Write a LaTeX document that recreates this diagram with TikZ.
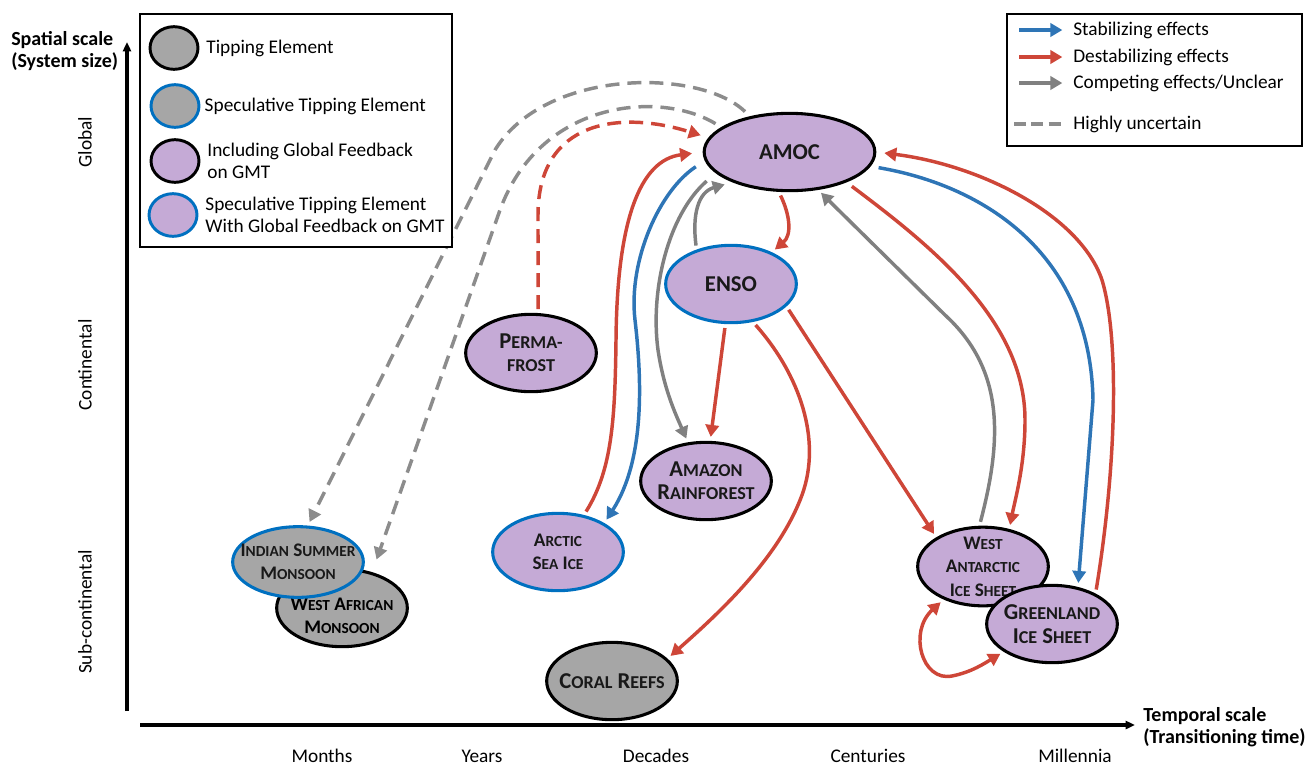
\documentclass[tikz,border=0pt]{standalone}
\usepackage{fontspec}
\setmainfont{Carlito}
\usetikzlibrary{shapes.geometric, arrows.meta, positioning}

\definecolor{tipgray}{RGB}{166,166,166}
\definecolor{gmtpurple}{RGB}{197,170,214}
\definecolor{specblue}{RGB}{0,112,192}
\definecolor{stabblue}{RGB}{46,117,182}
\definecolor{destabred}{RGB}{206,70,56}
\definecolor{unclgray}{RGB}{128,128,128}
\definecolor{dashgray}{RGB}{140,140,140}

% fake small caps: first letter full size, rest smaller
\makeatletter
\newcommand{\smcap}[2]{#1{\fontsize{\fpeval{0.8*\f@size}}{17.5}\selectfont#2}}
\makeatother

\tikzset{
  tipnode/.style={ellipse, line width=2.3pt, minimum width=98pt, minimum height=58pt,
    inner sep=-14pt, align=center, text=black!90},
  plain/.style={tipnode, draw=black},
  spec/.style={tipnode, draw=specblue},
  grayel/.style={fill=tipgray},
  gmtel/.style={fill=gmtpurple},
  bigtext/.style={font=\fontsize{17}{17.5}\selectfont\bfseries},
  smalltext/.style={font=\fontsize{14.4}{17.5}\selectfont\bfseries},
  link/.style={line width=2.6pt, -{Triangle[length=9pt,width=10pt]}, shorten >=3pt, shorten <=3pt},
  stab/.style={link, stabblue},
  destab/.style={link, destabred},
  unclear/.style={link, unclgray},
  uncertain/.style={link, dashgray, dash pattern=on 10.5pt off 6pt},
  uncertainred/.style={link, destabred, dash pattern=on 10.5pt off 6pt},
  axis/.style={line width=2.3pt, -{Triangle[length=7pt,width=6pt]}},
  axislabel/.style={font=\fontsize{15}{16.5}\selectfont\bfseries, align=left, inner sep=0pt},
  scalelab/.style={font=\fontsize{14.5}{17}\selectfont, inner sep=0pt},
  keydot/.style={ellipse, line width=2.2pt, minimum width=36pt, minimum height=32pt, inner sep=0pt},
  legtext/.style={font=\fontsize{14.5}{16.5}\selectfont, align=left, inner sep=0pt},
  legbox/.style={draw=black, line width=1.6pt, fill=white},
  keyarrow/.style={line width=3pt, -{Triangle[length=9pt,width=10pt]}, shorten >=8pt}
}

\begin{document}
\begin{tikzpicture}[x=0.75pt, y=-0.75pt]
  \useasboundingbox (0,0) rectangle (1306,765);

  % Axes
  \coordinate (ybot) at (127,711);
  \coordinate (ytop) at (127,42);
  \coordinate (xleft) at (140,725);
  \coordinate (xright) at (1135,725);
  \draw[axis] (ybot) -- (ytop);
  \draw[axis] (xleft) -- (xright);
  \node (ylab) [axislabel, anchor=west] at (11,51) {Spatial scale\\(System size)};
  \node (xlab) [axislabel, anchor=west] at (1143,727) {Temporal scale\\(Transitioning time)};
  \node (sglob) [scalelab, rotate=90] at (85,142) {Global};
  \node (scont) [scalelab, rotate=90] at (85,365) {Continental};
  \node (ssub)  [scalelab, rotate=90] at (85,612) {Sub-continental};
  \node (tmon) [scalelab, anchor=base] at (322,762) {Months};
  \node (tyea) [scalelab, anchor=base] at (482,762) {Years};
  \node (tdec) [scalelab, anchor=base] at (656,762) {Decades};
  \node (tcen) [scalelab, anchor=base] at (868,762) {Centuries};
  \node (tmil) [scalelab, anchor=base] at (1075,762) {Millennia};

  % Tipping elements
  \node (amoc) [plain, gmtel, bigtext, minimum width=128pt] at (789.5,152) {AMOC};
  \node (enso) [spec, gmtel, bigtext] at (731,284) {ENSO};
  \node (perma) [plain, gmtel, bigtext] at (531,353) {\smcap{P}{ERMA-}\\\smcap{}{FROST}};
  \node (amazon) [plain, gmtel, bigtext] at (706,481) {\smcap{A}{MAZON}\\\smcap{R}{AINFOREST}};
  \node (arctic) [spec, gmtel, smalltext] at (558,552) {\smcap{A}{RCTIC}\\\smcap{S}{EA} \smcap{I}{CE}};
  \node (wam) [plain, grayel] at (342,608) {};
  \node (wamtext) [smalltext, align=center, inner sep=0pt] at ([yshift=-6pt]wam.center)
    {\smcap{W}{EST} \smcap{A}{FRICAN}\\\smcap{M}{ONSOON}};
  \node (ism) [spec, grayel, smalltext, minimum height=53pt] at (298,562) {\smcap{I}{NDIAN} \smcap{S}{UMMER}\\\smcap{M}{ONSOON}};
  \node (coral) [plain, grayel, bigtext] at (612,681) {\smcap{C}{ORAL} \smcap{R}{EEFS}};
  \node (wais) [plain, gmtel, smalltext, minimum height=59pt] at (983,566.5) {\smcap{W}{EST}\\\smcap{A}{NTARCTIC}\\\smcap{I}{CE} \smcap{S}{HEET}};
  \node (gis) [plain, gmtel, bigtext] at (1052,624) {\smcap{G}{REENLAND}\\\smcap{I}{CE} \smcap{S}{HEET}};

  % Highly uncertain links
  \draw[uncertain, shorten <=5pt] (amoc.138) .. controls (700,68) and (545,68) .. (495,150) -- (ism.75);
  \draw[uncertain, shorten <=5pt, shorten >=10pt] (amoc.160) .. controls (660,90) and (540,100) .. (500,210) -- (wam.50);
  \draw[uncertainred, shorten >=6pt] (perma.80) -- (538,215) .. controls (538,120) and (620,110) .. (amoc.170);

  % Links on the left of AMOC
  \draw[destab, shorten >=8pt] (arctic.55) .. controls (612,470) and (615,420) .. (616,340)
    .. controls (617,220) and (640,160) .. (amoc.west);
  \draw[stab, shorten <=8pt] (amoc.186) .. controls (660,190) and (628,260) .. (635,320)
    .. controls (642,380) and (645,460) .. (arctic.32);
  \draw[unclear, shorten <=9pt] (amoc.196) .. controls (668,215) and (650,290) .. (658,350)
    .. controls (664,390) and (676,415) .. (amazon.115);
  \draw[unclear, shorten >=6pt] (enso.135) .. controls (692,215) and (698,192) .. (amoc.208);

  % Links from ENSO
  \draw[destab] (amoc.255) .. controls (790,215) and (792,235) .. (enso.38);
  \draw[destab] (enso.262) -- (amazon.84);
  \draw[destab] (enso.300) .. controls (800,375) and (822,440) .. (802,495)
    .. controls (780,555) and (725,608) .. (coral.22);
  \draw[destab] (enso.338) -- (wais.148);

  % Links with the ice sheets
  \draw[unclear] (wais.95) .. controls (1002,440) and (1005,370) .. (945,315) -- (amoc.307);
  \draw[destab, shorten <=5pt] (amoc.332) .. controls (930,245) and (1025,320) .. (1025,420)
    .. controls (1025,465) and (1015,500) .. (wais.55);
  \draw[stab, shorten <=6pt] (amoc.350) .. controls (980,185) and (1090,250) .. (1093,400) -- (gis.55);
  \draw[destab, shorten >=6pt] (gis.35) .. controls (1116,470) and (1120,340) .. (1102,280)
    .. controls (1080,215) and (980,165) .. (amoc.east);
  \draw[destab, {Triangle[length=9pt,width=10pt]}-{Triangle[length=9pt,width=10pt]}]
    (wais.220) .. controls (908,632) and (922,682) .. (952,676)
    .. controls (972,672) and (985,663) .. (gis.210);

  % Legend: element types
  \draw[legbox] (140,14) rectangle (452,247);
  \node (kte) [keydot, draw=black, fill=tipgray] at (174,48) {};
  \node (lte) [legtext, right=5pt of kte] {Tipping Element};
  \node (kste) [keydot, draw=specblue, fill=tipgray] at (175,106) {};
  \node (lste) [legtext, right=3pt of kste] {Speculative Tipping Element};
  \node (kgmt) [keydot, draw=black, fill=gmtpurple] at (175,161) {};
  \node (lgmt) [legtext, right=5pt of kgmt] {Including Global Feedback\\on GMT};
  \node (ksgmt) [keydot, draw=specblue, fill=gmtpurple] at (173,215) {};
  \node (lsgmt) [legtext, right=5pt of ksgmt] {Speculative Tipping Element\\With Global Feedback on GMT};

  % Legend: link types
  \draw[legbox] (1007,14) rectangle (1302,146);
  \node (lstab) [legtext, anchor=west] at (1073,30) {Stabilizing effects};
  \node (ldest) [legtext, anchor=west] at (1073,57) {Destabilizing effects};
  \node (lcomp) [legtext, anchor=west] at (1073,83) {Competing effects/Unclear};
  \node (lunc) [legtext, anchor=west] at (1073,124) {Highly uncertain};
  \coordinate (kstab) at (1019,30);
  \coordinate (kdest) at (1019,57);
  \coordinate (kcomp) at (1019,83);
  \coordinate (kunc) at (1014,124);
  \draw[keyarrow, stabblue] (kstab) -- (lstab);
  \draw[keyarrow, destabred] (kdest) -- (ldest);
  \draw[keyarrow, unclgray] (kcomp) -- (lcomp);
  \draw[dashgray, line width=3pt, dash pattern=on 9pt off 4pt, shorten >=7pt] (kunc) -- (lunc);
\end{tikzpicture}
\end{document}
